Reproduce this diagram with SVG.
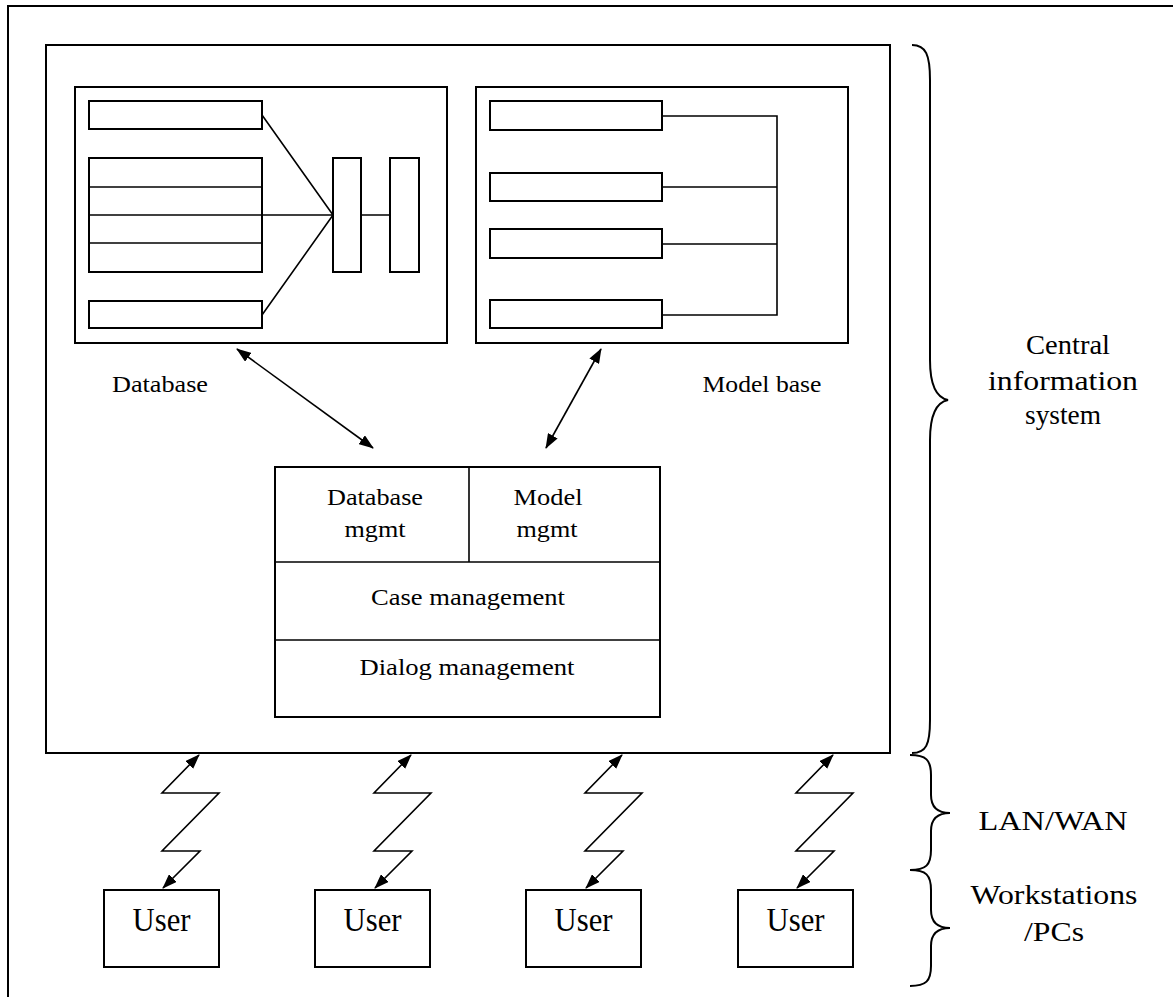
<svg xmlns="http://www.w3.org/2000/svg" width="1173" height="997" viewBox="0 0 1173 997">
  <defs>
    <marker id="head" viewBox="0 0 15 11" refX="14" refY="5.5" markerWidth="15" markerHeight="11" markerUnits="userSpaceOnUse" orient="auto-start-reverse">
      <path d="M0,0 L15,5.5 L0,11 Z" fill="#000"/>
    </marker>
    <style>
      .box { fill: #fff; stroke: #000; stroke-width: 2; }
      .bar { fill: #fff; stroke: #000; stroke-width: 2; }
      .ln { fill: none; stroke: #000; stroke-width: 1.6; }
      .arr { fill: none; stroke: #000; stroke-width: 1.6; marker-start: url(#head); marker-end: url(#head); }
      .brace { fill: none; stroke: #000; stroke-width: 2; }
      text { font-family: "Liberation Serif", "Times New Roman", serif; fill: #000; text-anchor: middle; }
      .t22 { font-size: 24px; }
      .t26 { font-size: 28px; }
      .t32 { font-size: 34px; }
    </style>
  </defs>

  <rect width="1173" height="997" fill="#fff"/>

  <!-- page frame (runs off the right and bottom edges) -->
  <path d="M8,997 V6 H1173" fill="none" stroke="#000" stroke-width="2"/>

  <!-- central information system container -->
  <g id="central-system">
    <rect class="box" x="46" y="45" width="844" height="708"/>
  </g>

  <!-- database -->
  <g id="database">
    <rect class="box" x="75" y="87" width="372" height="256"/>
    <rect class="bar" x="89" y="101" width="173" height="28"/>
    <rect class="bar" x="89" y="158" width="173" height="114"/>
    <line class="ln" x1="89" y1="187" x2="262" y2="187"/>
    <line class="ln" x1="89" y1="215" x2="262" y2="215"/>
    <line class="ln" x1="89" y1="243" x2="262" y2="243"/>
    <rect class="bar" x="89" y="301" width="173" height="27"/>
    <rect class="bar" x="333" y="158" width="28" height="114"/>
    <rect class="bar" x="390" y="158" width="29" height="114"/>
    <path class="ln" d="M262,115 L333,215 M262,215 L333,215 M262,315 L333,215 M361,215 L390,215"/>
    <text class="t22" x="160" y="392" textLength="96" lengthAdjust="spacingAndGlyphs">Database</text>
  </g>

  <!-- model base -->
  <g id="model-base">
    <rect class="box" x="476" y="87" width="372" height="256"/>
    <rect class="bar" x="490" y="101" width="172" height="29"/>
    <rect class="bar" x="490" y="173" width="172" height="28"/>
    <rect class="bar" x="490" y="229" width="172" height="29"/>
    <rect class="bar" x="490" y="300" width="172" height="28"/>
    <path class="ln" d="M662,116 H777 V315 H662 M662,187 H777 M662,244 H777"/>
    <text class="t22" x="762" y="392" textLength="119" lengthAdjust="spacingAndGlyphs">Model base</text>
  </g>

  <!-- management layers -->
  <g id="management">
    <rect class="box" x="275" y="467" width="385" height="250"/>
    <line class="ln" x1="469" y1="467" x2="469" y2="562"/>
    <line class="ln" x1="275" y1="562" x2="660" y2="562"/>
    <line class="ln" x1="275" y1="640" x2="660" y2="640"/>
    <text class="t22" x="375" y="505" textLength="96" lengthAdjust="spacingAndGlyphs">Database</text>
    <text class="t22" x="375" y="537" textLength="61" lengthAdjust="spacingAndGlyphs">mgmt</text>
    <text class="t22" x="548" y="505" textLength="69" lengthAdjust="spacingAndGlyphs">Model</text>
    <text class="t22" x="547" y="537" textLength="61" lengthAdjust="spacingAndGlyphs">mgmt</text>
    <text class="t22" x="468" y="605" textLength="194" lengthAdjust="spacingAndGlyphs">Case management</text>
    <text class="t22" x="467" y="675" textLength="215" lengthAdjust="spacingAndGlyphs">Dialog management</text>
  </g>

  <!-- workstations -->
  <g id="user-1">
    <rect class="box" x="104" y="890" width="115" height="77"/>
    <text class="t32" x="161.5" y="931" textLength="58" lengthAdjust="spacingAndGlyphs">User</text>
  </g>
  <g id="user-2">
    <rect class="box" x="315" y="890" width="115" height="77"/>
    <text class="t32" x="372.5" y="931" textLength="58" lengthAdjust="spacingAndGlyphs">User</text>
  </g>
  <g id="user-3">
    <rect class="box" x="526" y="890" width="115" height="77"/>
    <text class="t32" x="583.5" y="931" textLength="58" lengthAdjust="spacingAndGlyphs">User</text>
  </g>
  <g id="user-4">
    <rect class="box" x="738" y="890" width="115" height="77"/>
    <text class="t32" x="795.5" y="931" textLength="58" lengthAdjust="spacingAndGlyphs">User</text>
  </g>

  <!-- connectors -->
  <g id="connectors">
    <line class="arr" x1="237" y1="349" x2="373" y2="448"/>
    <line class="arr" x1="601" y1="349" x2="546" y2="448"/>
    <!-- network links: zigzag from the system to each user -->
    <path class="arr" d="M199,755 L162,793 H219 L162,851 H200 L163,888"/>
    <path class="arr" d="M411,755 L374,793 H431 L374,851 H412 L375,888"/>
    <path class="arr" d="M622,755 L585,793 H642 L585,851 H623 L586,888"/>
    <path class="arr" d="M833,755 L796,793 H853 L796,851 H834 L797,888"/>
  </g>

  <!-- tier braces and labels -->
  <g id="tier-central">
    <path class="brace" d="M912,45 C926,45 930,55 930,80 V360 C930,388 938,398 948,400 C938,402 930,412 930,440 V720 C930,745 926,753 912,753"/>
    <text class="t26" x="1068" y="354" textLength="84" lengthAdjust="spacingAndGlyphs">Central</text>
    <text class="t26" x="1063" y="390" textLength="150" lengthAdjust="spacingAndGlyphs">information</text>
    <text class="t26" x="1063" y="424" textLength="76" lengthAdjust="spacingAndGlyphs">system</text>
  </g>
  <g id="tier-network">
    <path class="brace" d="M910,755 C926,755 931,760 931,775 V795 C931,808 938,813 950,813 C938,813 931,818 931,831 V850 C931,865 926,870 910,870"/>
    <text class="t26" x="1053" y="830" textLength="149" lengthAdjust="spacingAndGlyphs">LAN/WAN</text>
  </g>
  <g id="tier-workstations">
    <path class="brace" d="M910,870 C926,870 931,875 931,890 V910 C931,923 938,928 950,928 C938,928 931,933 931,946 V966 C931,981 926,986 910,986"/>
    <text class="t26" x="1054" y="904" textLength="167" lengthAdjust="spacingAndGlyphs">Workstations</text>
    <text class="t26" x="1054" y="941" textLength="60" lengthAdjust="spacingAndGlyphs">/PCs</text>
  </g>
</svg>
